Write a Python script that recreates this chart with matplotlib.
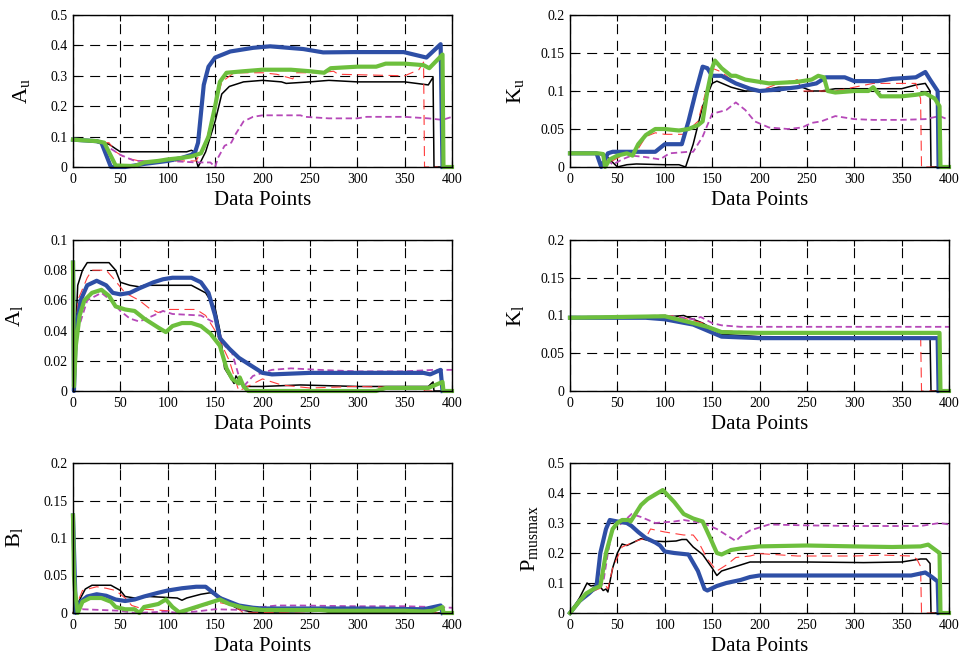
import matplotlib.pyplot as plt

plt.rcParams['font.family'] = ['Liberation Serif', 'DejaVu Serif']
plt.rcParams['mathtext.fontset'] = 'custom'
plt.rcParams['mathtext.rm'] = 'Liberation Serif'
plt.rcParams['mathtext.it'] = 'Liberation Serif:italic'

# ---------------- data: (x, y) breakpoints ----------------
# A_u
au_black = [(0, 0.09), (30, 0.08), (38, 0.075), (45, 0.06), (50, 0.05), (120, 0.05), (125, 0.055), (128, 0.05),
            (132, 0.0), (140, 0.05), (150, 0.15), (157, 0.24), (165, 0.265), (180, 0.28), (200, 0.285), (220, 0.28),
            (225, 0.275), (250, 0.28), (270, 0.285), (300, 0.28), (350, 0.28), (375, 0.27), (380, 0.295), (381, 0.0),
            (390, 0.0)]
au_red = [(0, 0.09), (30, 0.08), (38, 0.08), (45, 0.05), (55, 0.03), (70, 0.02), (130, 0.02), (140, 0.08),
          (150, 0.2), (157, 0.28), (170, 0.31), (200, 0.31), (215, 0.305), (232, 0.29), (235, 0.31), (260, 0.31),
          (275, 0.315), (280, 0.305), (350, 0.3), (365, 0.32), (370, 0.345), (371, 0.0), (385, 0.0)]
au_magenta = [(0, 0.09), (30, 0.08), (40, 0.06), (50, 0.04), (65, 0.02), (100, 0.02), (130, 0.015), (145, 0.015),
              (150, 0.0), (153, 0.03), (160, 0.07), (167, 0.08), (172, 0.11), (180, 0.15), (190, 0.165),
              (200, 0.17), (240, 0.17), (245, 0.165), (270, 0.16), (300, 0.16), (310, 0.165), (350, 0.165),
              (375, 0.16), (390, 0.155), (400, 0.165)]
au_blue = [(0, 0.09), (25, 0.085), (30, 0.08), (40, 0.0), (55, 0.0), (75, 0.01), (100, 0.02), (115, 0.03),
           (125, 0.04), (129, 0.05), (132, 0.08), (138, 0.27), (143, 0.33), (150, 0.36), (166, 0.38), (190, 0.392),
           (208, 0.397), (243, 0.388), (264, 0.377), (296, 0.378), (349, 0.378), (373, 0.36), (388, 0.404),
           (390, 0.0)]
au_green = [(0, 0.09), (25, 0.085), (33, 0.08), (45, 0.005), (65, 0.003), (75, 0.015), (90, 0.02), (100, 0.025),
            (115, 0.03), (125, 0.035), (135, 0.045), (143, 0.1), (150, 0.2), (155, 0.28), (162, 0.31), (180, 0.315),
            (200, 0.32), (230, 0.32), (250, 0.315), (265, 0.31), (272, 0.325), (300, 0.33), (320, 0.33),
            (330, 0.34), (350, 0.34), (370, 0.335), (376, 0.325), (390, 0.37), (391, 0.0), (400, 0.0)]

# K_u
ku_black = [(0, 0.018), (35, 0.018), (42, 0.01), (50, 0.0), (60, 0.003), (70, 0.004), (100, 0.003), (115, 0.003),
            (122, 0.0), (130, 0.03), (140, 0.08), (150, 0.11), (155, 0.113), (170, 0.105), (185, 0.1), (200, 0.1),
            (220, 0.105), (245, 0.105), (255, 0.1), (265, 0.1), (280, 0.103), (350, 0.103), (365, 0.108),
            (375, 0.11), (380, 0.1), (381, 0.0), (390, 0.0)]
ku_red = [(0, 0.018), (30, 0.018), (35, 0.015), (40, 0.005), (55, 0.015), (70, 0.02), (80, 0.04), (90, 0.045),
          (100, 0.043), (120, 0.043), (135, 0.06), (150, 0.13), (160, 0.125), (175, 0.11), (200, 0.1), (220, 0.11),
          (240, 0.115), (245, 0.1), (260, 0.1), (280, 0.1), (300, 0.105), (320, 0.11), (365, 0.11), (370, 0.09),
          (371, 0.0), (385, 0.0)]
ku_magenta = [(0, 0.018), (30, 0.018), (40, 0.01), (45, 0.003), (55, 0.01), (65, 0.015), (80, 0.013), (95, 0.01),
              (105, 0.018), (125, 0.02), (130, 0.02), (140, 0.04), (150, 0.07), (165, 0.075), (175, 0.085),
              (185, 0.075), (195, 0.06), (210, 0.052), (230, 0.05), (245, 0.052), (255, 0.058), (265, 0.06),
              (280, 0.067), (300, 0.063), (320, 0.062), (350, 0.062), (375, 0.063), (390, 0.067), (400, 0.062)]
ku_blue = [(0, 0.018), (28, 0.018), (33, 0.0), (40, 0.018), (45, 0.02), (85, 0.02), (90, 0.02), (95, 0.025),
           (100, 0.03), (118, 0.03), (125, 0.06), (133, 0.1), (140, 0.132), (145, 0.13), (150, 0.12), (160, 0.12),
           (175, 0.11), (190, 0.103), (200, 0.1), (220, 0.102), (240, 0.105), (260, 0.11), (270, 0.118),
           (290, 0.118), (300, 0.113), (325, 0.113), (340, 0.116), (365, 0.118), (375, 0.125), (380, 0.115),
           (388, 0.1), (389, 0.0)]
ku_green = [(0, 0.018), (30, 0.018), (35, 0.017), (37, 0.0), (42, 0.01), (50, 0.015), (60, 0.018), (66, 0.015),
            (72, 0.03), (80, 0.042), (90, 0.05), (100, 0.05), (115, 0.048), (125, 0.05), (135, 0.055), (140, 0.06),
            (145, 0.1), (150, 0.13), (153, 0.14), (160, 0.13), (170, 0.12), (175, 0.12), (185, 0.115),
            (195, 0.113), (210, 0.11), (240, 0.112), (255, 0.115), (262, 0.12), (268, 0.118), (272, 0.1),
            (280, 0.098), (300, 0.1), (315, 0.1), (320, 0.105), (328, 0.093), (350, 0.093), (365, 0.095),
            (375, 0.097), (385, 0.09), (390, 0.08), (391, 0.0), (400, 0.0)]

# A_l
al_black = [(0, 0.0), (5, 0.07), (10, 0.08), (15, 0.085), (38, 0.085), (45, 0.08), (50, 0.072), (60, 0.07),
            (70, 0.069), (75, 0.07), (125, 0.07), (140, 0.065), (150, 0.055), (155, 0.04), (160, 0.015),
            (170, 0.005), (172, 0.01), (180, 0.003), (200, 0.003), (240, 0.004), (300, 0.003), (375, 0.003),
            (380, 0.006), (381, 0.0), (390, 0.0)]
al_red = [(0, 0.0), (5, 0.06), (15, 0.075), (20, 0.08), (35, 0.08), (42, 0.075), (55, 0.065), (70, 0.06),
          (80, 0.055), (90, 0.052), (100, 0.054), (130, 0.054), (140, 0.05), (150, 0.04), (165, 0.02), (175, 0.0),
          (200, 0.008), (220, 0.004), (250, 0.002), (300, 0.003), (370, 0.002), (371, 0.0), (385, 0.0)]
al_magenta = [(0, 0.0), (5, 0.04), (15, 0.06), (30, 0.065), (40, 0.06), (50, 0.053), (60, 0.048), (70, 0.046),
              (85, 0.05), (95, 0.053), (105, 0.051), (135, 0.05), (150, 0.045), (160, 0.03), (168, 0.025),
              (175, 0.01), (180, 0.003), (190, 0.01), (210, 0.014), (230, 0.015), (260, 0.014), (300, 0.013),
              (350, 0.013), (380, 0.014), (400, 0.014)]
al_blue = [(0, 0.085), (1, 0.0), (3, 0.04), (8, 0.06), (15, 0.07), (25, 0.073), (35, 0.07), (42, 0.065),
           (50, 0.064), (60, 0.065), (70, 0.068), (85, 0.072), (95, 0.074), (105, 0.075), (125, 0.075),
           (135, 0.072), (143, 0.065), (150, 0.05), (155, 0.035), (165, 0.028), (175, 0.022), (185, 0.018),
           (200, 0.012), (210, 0.011), (250, 0.012), (300, 0.012), (370, 0.012), (377, 0.011), (388, 0.014),
           (390, 0.0)]
al_green = [(0, 0.085), (1, 0.003), (3, 0.03), (7, 0.05), (12, 0.06), (20, 0.065), (30, 0.067), (38, 0.063),
            (45, 0.056), (55, 0.054), (65, 0.053), (75, 0.048), (90, 0.042), (98, 0.039), (105, 0.043),
            (115, 0.045), (125, 0.045), (135, 0.043), (145, 0.038), (155, 0.03), (162, 0.015), (168, 0.008),
            (175, 0.005), (176, 0.009), (180, 0.003), (185, 0.0), (320, 0.0), (330, 0.002), (375, 0.002),
            (390, 0.006), (391, 0.0), (400, 0.0)]

# K_l
kl_black = [(0, 0.097), (100, 0.098), (120, 0.1), (140, 0.09), (160, 0.075), (200, 0.072), (380, 0.07),
            (381, 0.0), (390, 0.0)]
kl_red = [(0, 0.097), (110, 0.1), (140, 0.09), (155, 0.08), (200, 0.078), (370, 0.078), (371, 0.0), (385, 0.0)]
kl_magenta = [(0, 0.097), (100, 0.1), (130, 0.095), (138, 0.098), (150, 0.09), (160, 0.087), (180, 0.085),
              (400, 0.085)]
kl_blue = [(0, 0.097), (80, 0.097), (100, 0.095), (130, 0.088), (145, 0.08), (160, 0.072), (200, 0.07),
           (388, 0.07), (389, 0.0)]
kl_green = [(0, 0.097), (100, 0.099), (130, 0.09), (145, 0.085), (160, 0.078), (200, 0.077), (390, 0.077),
            (391, 0.0), (400, 0.0)]

# B_l
bl_black = [(0, 0.0), (8, 0.02), (13, 0.032), (20, 0.037), (40, 0.037), (50, 0.03), (55, 0.022), (65, 0.02),
            (80, 0.022), (110, 0.02), (115, 0.017), (120, 0.02), (135, 0.025), (145, 0.027), (155, 0.022),
            (165, 0.012), (175, 0.005), (190, 0.001), (250, 0.002), (265, 0.003), (270, 0.001), (380, 0.001),
            (381, 0.0), (390, 0.0)]
bl_red = [(0, 0.0), (10, 0.03), (25, 0.035), (35, 0.033), (45, 0.03), (55, 0.02), (62, 0.01), (75, 0.005),
          (100, 0.003), (120, 0.002), (140, 0.01), (150, 0.015), (170, 0.01), (180, 0.0), (250, 0.002),
          (330, 0.004), (370, 0.003), (371, 0.0), (385, 0.0)]
bl_magenta = [(0, 0.0), (10, 0.005), (50, 0.003), (65, 0.0), (100, 0.002), (110, 0.0), (130, 0.002),
              (150, 0.005), (180, 0.004), (200, 0.008), (215, 0.01), (240, 0.01), (300, 0.009), (350, 0.009),
              (380, 0.008), (400, 0.007)]
bl_blue = [(0, 0.13), (3, 0.0), (8, 0.015), (15, 0.022), (25, 0.025), (35, 0.023), (45, 0.018), (55, 0.016),
           (65, 0.018), (75, 0.022), (90, 0.027), (100, 0.03), (115, 0.033), (130, 0.035), (140, 0.035),
           (145, 0.03), (155, 0.02), (165, 0.015), (175, 0.01), (190, 0.007), (200, 0.006), (300, 0.006),
           (370, 0.005), (388, 0.01), (390, 0.0)]
bl_green = [(0, 0.13), (1, 0.05), (2, 0.03), (5, 0.0), (10, 0.015), (18, 0.02), (30, 0.02), (40, 0.015),
            (45, 0.008), (55, 0.005), (65, 0.005), (70, 0.0), (75, 0.008), (90, 0.012), (98, 0.018), (105, 0.008),
            (112, 0.001), (120, 0.004), (130, 0.008), (140, 0.012), (155, 0.018), (165, 0.012), (180, 0.007),
            (200, 0.004), (260, 0.004), (270, 0.003), (350, 0.003), (370, 0.002), (380, 0.003), (390, 0.008),
            (391, 0.0), (400, 0.0)]

# P_musmax
pm_black = [(0, 0.0), (10, 0.05), (18, 0.1), (22, 0.09), (30, 0.095), (35, 0.075), (38, 0.08), (40, 0.07),
            (45, 0.15), (50, 0.2), (55, 0.23), (60, 0.225), (70, 0.24), (75, 0.248), (85, 0.24), (100, 0.238),
            (112, 0.24), (118, 0.245), (123, 0.245), (130, 0.22), (140, 0.195), (150, 0.15), (155, 0.125),
            (160, 0.14), (170, 0.15), (180, 0.16), (190, 0.17), (250, 0.17), (310, 0.168), (350, 0.17),
            (370, 0.18), (376, 0.18), (380, 0.165), (381, 0.0), (390, 0.0)]
pm_red = [(0, 0.0), (15, 0.06), (30, 0.08), (38, 0.09), (40, 0.08), (45, 0.15), (55, 0.22), (70, 0.24),
          (80, 0.25), (85, 0.28), (100, 0.27), (120, 0.26), (130, 0.26), (135, 0.24), (145, 0.18), (155, 0.14),
          (165, 0.16), (175, 0.185), (190, 0.19), (200, 0.198), (240, 0.19), (300, 0.19), (330, 0.193),
          (360, 0.19), (366, 0.18), (370, 0.155), (371, 0.0), (385, 0.0)]
pm_magenta = [(0, 0.0), (15, 0.06), (25, 0.075), (30, 0.08), (35, 0.1), (40, 0.2), (45, 0.28), (55, 0.3),
              (65, 0.33), (75, 0.32), (90, 0.3), (110, 0.305), (120, 0.31), (140, 0.3), (155, 0.28), (165, 0.26),
              (175, 0.24), (180, 0.255), (190, 0.275), (200, 0.285), (210, 0.295), (250, 0.292), (300, 0.29),
              (370, 0.29), (390, 0.3), (400, 0.295)]
pm_blue = [(0, 0.0), (10, 0.04), (20, 0.065), (25, 0.08), (28, 0.09), (32, 0.2), (38, 0.28), (42, 0.31),
           (50, 0.305), (60, 0.3), (65, 0.29), (72, 0.27), (80, 0.25), (90, 0.235), (95, 0.225), (100, 0.205),
           (110, 0.2), (125, 0.195), (135, 0.14), (142, 0.08), (145, 0.075), (155, 0.09), (165, 0.1),
           (180, 0.11), (190, 0.12), (200, 0.125), (300, 0.125), (360, 0.125), (375, 0.135), (382, 0.12),
           (388, 0.105), (389, 0.0)]
pm_green = [(0, 0.0), (10, 0.04), (17, 0.065), (25, 0.08), (32, 0.09), (38, 0.2), (45, 0.28), (50, 0.3),
            (55, 0.31), (62, 0.31), (64, 0.305), (67, 0.32), (75, 0.36), (82, 0.38), (90, 0.395), (98, 0.41),
            (110, 0.37), (120, 0.33), (130, 0.315), (140, 0.305), (148, 0.25), (155, 0.2), (160, 0.195),
            (170, 0.21), (180, 0.215), (200, 0.222), (250, 0.225), (300, 0.222), (340, 0.22), (370, 0.222),
            (378, 0.228), (390, 0.2), (391, 0.0), (400, 0.0)]

# ---------------- panels ----------------
labels = [r'A$_\mathrm{u}$', r'K$_\mathrm{u}$', r'A$_\mathrm{l}$', r'K$_\mathrm{l}$', r'B$_\mathrm{l}$',
          r'P$_\mathrm{musmax}$']
ymaxes = [0.5, 0.2, 0.1, 0.2, 0.2, 0.5]
ysteps = [0.1, 0.05, 0.02, 0.05, 0.05, 0.1]
series = [
    [au_black, au_red, au_magenta, au_blue, au_green],
    [ku_black, ku_red, ku_magenta, ku_blue, ku_green],
    [al_black, al_red, al_magenta, al_blue, al_green],
    [kl_black, kl_red, kl_magenta, kl_blue, kl_green],
    [bl_black, bl_red, bl_magenta, bl_blue, bl_green],
    [pm_black, pm_red, pm_magenta, pm_blue, pm_green],
]
labelpads = [13, 10, 13, 10, 13, 5]

styles = [
    dict(color='black', lw=1.1, ls='-'),
    dict(color='#ff3b3b', lw=0.8, ls=(0, (9, 5))),
    dict(color='#b648b8', lw=1.3, ls=(0, (3.5, 2))),
    dict(color='#2e4fa6', lw=3.0, ls='-'),
    dict(color='#6dbf3d', lw=3.0, ls='-'),
]

lefts = [73, 570]
tops = [15, 240, 463]
bottoms = [167, 391, 613]
W, H = 960, 659

fig = plt.figure(figsize=(9.6, 6.59), dpi=100)

for i in range(6):
    r, c = divmod(i, 2)
    ax = fig.add_axes([lefts[c] / W, 1 - bottoms[r] / H, 379 / W, (bottoms[r] - tops[r]) / H])
    for pts, st in zip(series[i], styles):
        xs = [p[0] for p in pts]
        ys = [p[1] for p in pts]
        ax.plot(xs, ys, solid_joinstyle='round', clip_on=False, **st)
    ax.set_xlim(0, 400)
    ax.set_ylim(0, ymaxes[i])
    ax.set_xticks(range(0, 401, 50))
    n = int(round(ymaxes[i] / ysteps[i]))
    yt = [round(k * ysteps[i], 3) for k in range(n + 1)]
    ax.set_yticks(yt)
    ax.set_yticklabels(['{:g}'.format(v) for v in yt])
    ax.grid(True, color='black', lw=0.8, ls=(0, (9, 6)))
    ax.set_axisbelow(True)
    ax.tick_params(direction='in', top=True, right=True, length=4, labelsize=10, pad=4)
    for s in ax.spines.values():
        s.set_linewidth(1.0)
    ax.set_xlabel('Data Points', fontsize=15, labelpad=4)
    ax.set_ylabel(labels[i], fontsize=16, labelpad=labelpads[i])

fig.savefig('out.png', dpi=100)
